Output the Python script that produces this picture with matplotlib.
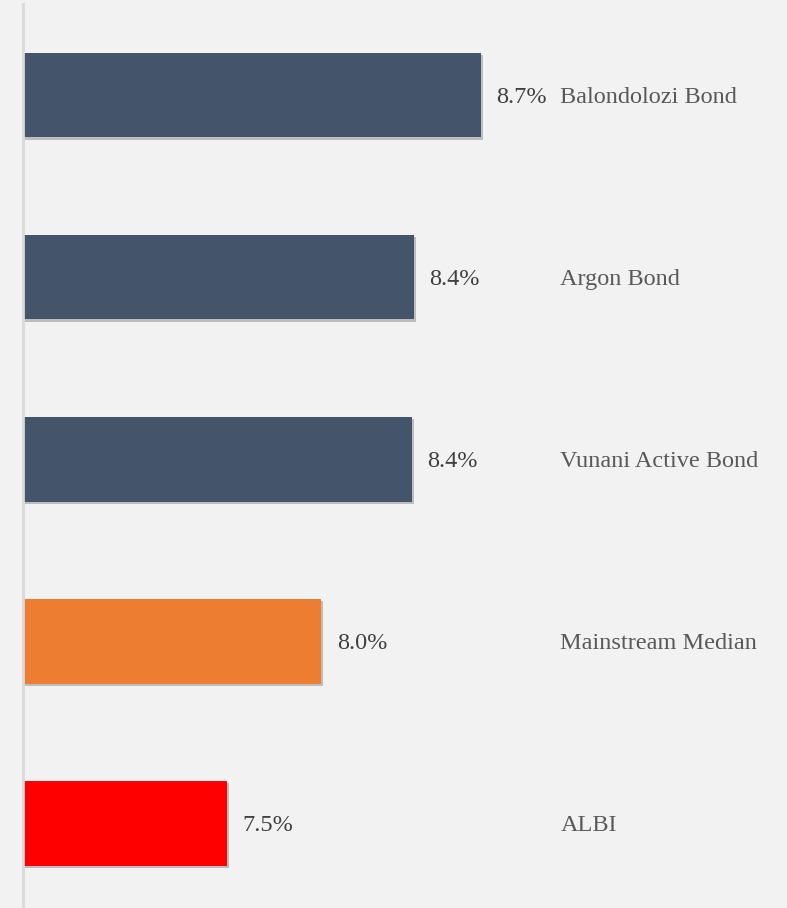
import matplotlib.pyplot as plt
import matplotlib.patheffects as pe

funds = ["Balondolozi Bond", "Argon Bond", "Vunani Active Bond", "Mainstream Median", "ALBI"]
returns = [8.73, 8.41, 8.40, 7.97, 7.52]
colors = ["#44546a", "#44546a", "#44546a", "#ed7d31", "#ff0000"]

fig = plt.figure(figsize=(7.87, 9.08), dpi=100)
fig.patch.set_facecolor("#f2f2f2")
ax = fig.add_axes([23 / 787, 0, 764 / 787, 904 / 908])
ax.set_facecolor("#f2f2f2")

ypos = list(range(len(funds) - 1, -1, -1))
left = 6.55
bars = ax.barh(ypos, [r - left for r in returns], left=left, height=0.467, color=colors)
for b in bars:
    b.set_path_effects([pe.SimplePatchShadow(offset=(1.5, -2), alpha=0.3, shadow_rgbFace="#444444"), pe.Normal()])

for y, r, name in zip(ypos, returns, funds):
    ax.text(r + 0.075, y - 0.012, f"{r:.1f}%", va="center", ha="left", fontsize=17.5,
            family="Liberation Serif", color="#404040")
    ax.text(0.7035, y - 0.012, name, va="center", ha="left", fontsize=17.5,
            family="Liberation Serif", color="#595959",
            transform=ax.get_yaxis_transform())

ax.set_xlim(left, left + 764 / 210)
ax.set_ylim(-0.467, 4.5)
for s in ["top", "right", "bottom"]:
    ax.spines[s].set_visible(False)
ax.spines["left"].set_color("#d9d9d9")
ax.spines["left"].set_linewidth(2)
ax.set_xticks([])
ax.set_yticks([])

fig.savefig("out.png", dpi=100, facecolor=fig.get_facecolor())
